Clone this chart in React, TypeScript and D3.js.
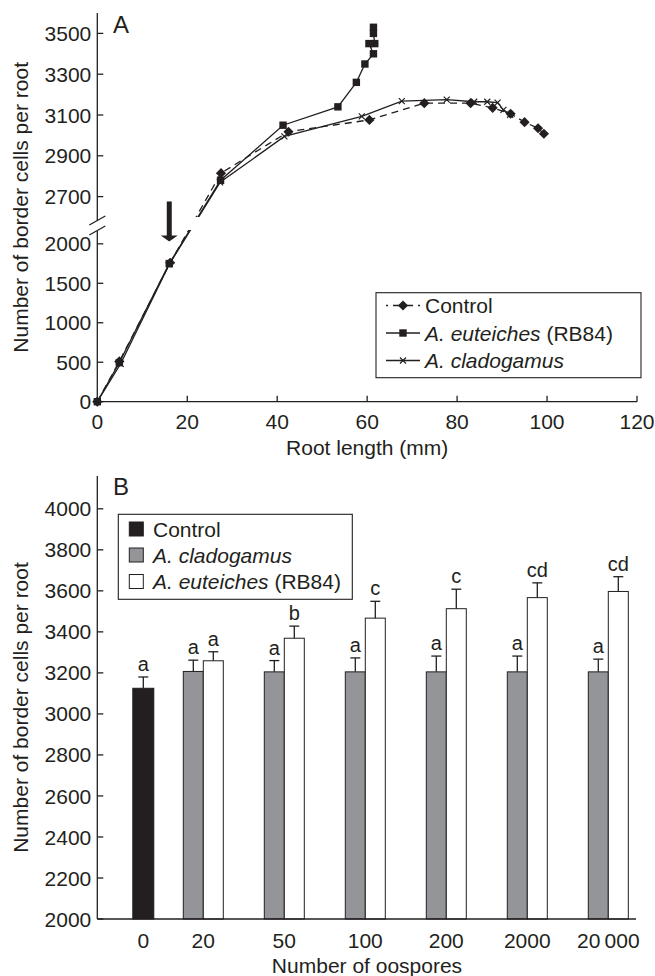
import * as d3 from "d3";

// Panel A: border cells vs root length
const lengthControl = [0, 4.9, 16.2, 27.5, 42.5, 60.5, 72.7, 83, 87.9, 91.9, 95, 98, 99.3];
const cellsControl = [0, 510, 1760, 2815, 3018, 3076, 3158, 3158, 3135, 3106, 3065, 3035, 3008];
const lengthEuteiches = [0, 4.9, 16, 27.4, 41.3, 53.5, 57.6, 59.5, 61.4, 60.4, 61.7, 61.4, 61.4];
const cellsEuteiches = [0, 495, 1750, 2780, 3050, 3140, 3260, 3350, 3400, 3450, 3450, 3500, 3530];
const lengthCladogamus = [0, 5.2, 16, 27.3, 41.6, 58.8, 67.7, 77.7, 83.8, 86.7, 89, 90.3, 91.8];
const cellsCladogamus = [0, 480, 1740, 2770, 2995, 3093, 3168, 3175, 3165, 3165, 3161, 3125, 3101];

const ticksALower = [0, 500, 1000, 1500, 2000];
const ticksAUpper = [2700, 2900, 3100, 3300, 3500];
const ticksAX = [0, 20, 40, 60, 80, 100, 120];

// Panel B: border cells vs number of oospores
const oosporeLabels = ["0", "20", "50", "100", "200", "2000", "20\u2009000"];
const controlMean = 3125;
const controlErr = 55;
const controlLetter = "a";
const cladMeans = [3207, 3205, 3205, 3205, 3205, 3205];
const cladErr = [55, 55, 68, 77, 77, 62];
const cladLetters = ["a", "a", "a", "a", "a", "a"];
const eutMeans = [3259, 3369, 3467, 3513, 3567, 3597];
const eutErr = [44, 59, 82, 95, 72, 72];
const eutLetters = ["a", "b", "c", "c", "cd", "cd"];
const ticksB = [2000, 2200, 2400, 2600, 2800, 3000, 3200, 3400, 3600, 3800, 4000];

const INK = "#231f20";
const GREY = "#939598";
const FONT = "'Liberation Sans', Arial, Helvetica, sans-serif";

const xA = d3.scaleLinear().domain([0, 120]).range([97.3, 637]);
// broken axis: lower part 0-2175, upper part 2600-3600
const yA = d3.scaleLinear().domain([0, 2175, 2600, 3600]).range([401.7, 230, 217, 13]);

const xB = d3.scaleLinear().domain([0, 1, 6]).range([143.3, 203.3, 608.3]);
const yB = d3.scaleLinear().domain([2000, 4160]).range([919, 476]);
const barW = 20;

const diamond = (x: number, y: number, k: string) => (
  <rect key={k} x={x - 3.6} y={y - 3.6} width={7.2} height={7.2} fill={INK}
    transform={`rotate(45 ${x} ${y})`} />
);
const square = (x: number, y: number, k: string) => (
  <rect key={k} x={x - 3.7} y={y - 3.7} width={7.4} height={7.4} fill={INK} />
);
const cross = (x: number, y: number, k: string) => (
  <path key={k} d={`M${x - 3},${y - 3}L${x + 3},${y + 3}M${x - 3},${y + 3}L${x + 3},${y - 3}`}
    stroke={INK} strokeWidth={1.2} />
);

function PanelA() {
  const line = d3.line<[number, number]>().x((d) => xA(d[0])).y((d) => yA(d[1]));
  const ctrl = lengthControl.map((x, i) => [x, cellsControl[i]] as [number, number]);
  const eut = lengthEuteiches.map((x, i) => [x, cellsEuteiches[i]] as [number, number]);
  const clad = lengthCladogamus.map((x, i) => [x, cellsCladogamus[i]] as [number, number]);
  const axX = xA(0);
  const y0 = yA(0);
  const gapLo = yA(2175);
  const gapHi = yA(2600);
  const arrowX = xA(16);
  const arrowTip = yA(2030);
  return (
    <g>
      <defs>
        <clipPath id="clipA">
          <rect x={0} y={0} width={655} height={gapHi} />
          <rect x={0} y={gapLo} width={655} height={420 - gapLo} />
        </clipPath>
      </defs>
      <g clipPath="url(#clipA)" fill="none" stroke={INK} strokeWidth={1.3}>
        <path d={line(ctrl) || ""} strokeDasharray="7,5" />
        <path d={line(clad) || ""} />
        <path d={line(eut) || ""} />
      </g>
      {ctrl.map((d, i) => diamond(xA(d[0]), yA(d[1]), "c" + i))}
      {eut.map((d, i) => square(xA(d[0]), yA(d[1]), "e" + i))}
      {clad.map((d, i) => cross(xA(d[0]), yA(d[1]), "x" + i))}

      {/* axes */}
      <g stroke={INK} strokeWidth={1.3}>
        <line x1={axX} x2={axX} y1={y0} y2={gapLo + 1} />
        <line x1={axX} x2={axX} y1={gapHi + 4} y2={13} />
        <line x1={axX} x2={xA(120)} y1={y0} y2={y0} />
        <line x1={axX - 8} x2={axX + 8} y1={gapLo + 5} y2={gapLo - 4} />
        <line x1={axX - 8} x2={axX + 8} y1={gapHi + 8} y2={gapHi - 1} />
        {[...ticksALower, ...ticksAUpper].map((t) => (
          <line key={t} x1={axX} x2={axX + 6} y1={yA(t)} y2={yA(t)} />
        ))}
        {ticksAX.slice(1).map((t) => (
          <line key={t} x1={xA(t)} x2={xA(t)} y1={y0} y2={y0 - 6} />
        ))}
      </g>
      <g fontFamily={FONT} fontSize={21} fill={INK}>
        {[...ticksALower, ...ticksAUpper].map((t) => (
          <text key={t} x={axX - 6} y={yA(t)} dy="0.36em" textAnchor="end">{t}</text>
        ))}
        {ticksAX.map((t) => (
          <text key={t} x={xA(t)} y={429} textAnchor="middle">{t}</text>
        ))}
        <text x={xA(60)} y={455} textAnchor="middle">Root length (mm)</text>
        <text transform={`translate(28,${(y0 + 13) / 2}) rotate(-90)`} textAnchor="middle">
          Number of border cells per root
        </text>
        <text x={113} y={33} fontSize={24}>A</text>
      </g>

      {/* arrow */}
      <rect x={arrowX - 2.5} y={arrowTip - 40} width={5} height={35} fill={INK} />
      <path d={`M${arrowX - 8.5},${arrowTip - 6}L${arrowX + 8.5},${arrowTip - 6}L${arrowX},${arrowTip}Z`} fill={INK} />

      {/* legend */}
      <rect x={376} y={292.7} width={265} height={85} fill="white" stroke={INK} strokeWidth={1.1} />
      <g stroke={INK} strokeWidth={1.3}>
        <line x1={386} x2={420} y1={305.5} y2={305.5} strokeDasharray="2,5,20,5,2" />
        <line x1={386} x2={420} y1={333} y2={333} />
        <line x1={386} x2={420} y1={360.5} y2={360.5} />
      </g>
      {diamond(403, 305.5, "ld")}
      {square(403, 333, "ls")}
      {cross(403, 360.5, "lx")}
      <g fontFamily={FONT} fontSize={21} fill={INK}>
        <text x={425} y={305.5} dy="0.36em">Control</text>
        <text x={425} y={333} dy="0.36em"><tspan fontStyle="italic">A. euteiches</tspan> (RB84)</text>
        <text x={425} y={360.5} dy="0.36em" fontStyle="italic">A. cladogamus</text>
      </g>
    </g>
  );
}

function PanelB() {
  const axX = 97.3;
  const base = yB(2000);
  const errBar = (cx: number, top: number, err: number, k: string) => (
    <g key={k} stroke={INK} strokeWidth={1.3}>
      <line x1={cx} x2={cx} y1={yB(top)} y2={yB(top + err)} />
      <line x1={cx - 5} x2={cx + 5} y1={yB(top + err)} y2={yB(top + err)} />
    </g>
  );
  return (
    <g>
      {/* control */}
      <rect x={xB(0) - 10.5} y={yB(controlMean)} width={21} height={base - yB(controlMean)}
        fill={INK} stroke={INK} strokeWidth={1} />
      {errBar(xB(0), controlMean, controlErr, "ce")}
      {cladMeans.map((m, i) => {
        const cx = xB(i + 1) - barW / 2;
        return (
          <g key={"g" + i}>
            <rect x={cx - barW / 2} y={yB(m)} width={barW} height={base - yB(m)}
              fill={GREY} stroke={INK} strokeWidth={1} />
            {errBar(cx, m, cladErr[i], "ge")}
          </g>
        );
      })}
      {eutMeans.map((m, i) => {
        const cx = xB(i + 1) + barW / 2;
        return (
          <g key={"w" + i}>
            <rect x={cx - barW / 2} y={yB(m)} width={barW} height={base - yB(m)}
              fill="white" stroke={INK} strokeWidth={1} />
            {errBar(cx, m, eutErr[i], "we")}
          </g>
        );
      })}

      <g stroke={INK} strokeWidth={1.3}>
        <line x1={axX} x2={axX} y1={base} y2={476} />
        <line x1={axX} x2={636} y1={base} y2={base} />
        {ticksB.map((t) => (
          <line key={t} x1={axX} x2={axX + 6} y1={yB(t)} y2={yB(t)} />
        ))}
      </g>

      <g fontFamily={FONT} fontSize={21} fill={INK}>
        {ticksB.map((t) => (
          <text key={t} x={axX - 6} y={yB(t)} dy="0.36em" textAnchor="end">{t}</text>
        ))}
        {oosporeLabels.map((l, i) => (
          <text key={l} x={xB(i)} y={948} textAnchor="middle">{l}</text>
        ))}
        <text x={367} y={973} textAnchor="middle">Number of oospores</text>
        <text transform={`translate(28,${(base + 476) / 2 + 10}) rotate(-90)`} textAnchor="middle">
          Number of border cells per root
        </text>
        <text x={113} y={495} fontSize={24}>B</text>
      </g>
      <g fontFamily={FONT} fontSize={20} fill={INK} textAnchor="middle">
        <text x={xB(0)} y={yB(controlMean + controlErr) - 6}>{controlLetter}</text>
        {cladLetters.map((l, i) => (
          <text key={"gl" + i} x={xB(i + 1) - barW / 2} y={yB(cladMeans[i] + cladErr[i]) - 6}>{l}</text>
        ))}
        {eutLetters.map((l, i) => (
          <text key={"wl" + i} x={xB(i + 1) + barW / 2} y={yB(eutMeans[i] + eutErr[i]) - 6}>{l}</text>
        ))}
      </g>

      {/* legend */}
      <rect x={118.3} y={514.3} width={234} height={85} fill="white" stroke={INK} strokeWidth={1.1} />
      <rect x={129.3} y={522} width={14} height={14} fill={INK} stroke={INK} />
      <rect x={129.3} y={548} width={14} height={14} fill={GREY} stroke={INK} />
      <rect x={129.3} y={574.5} width={14} height={14} fill="white" stroke={INK} />
      <g fontFamily={FONT} fontSize={21} fill={INK}>
        <text x={153} y={529} dy="0.36em">Control</text>
        <text x={153} y={555} dy="0.36em" fontStyle="italic">A. cladogamus</text>
        <text x={153} y={581.5} dy="0.36em"><tspan fontStyle="italic">A. euteiches</tspan> (RB84)</text>
      </g>
    </g>
  );
}

export default function App() {
  return (
    <svg width={655} height={976} style={{ position: "absolute", left: 0, top: 0, background: "white" }}>
      <PanelA />
      <PanelB />
    </svg>
  );
}
